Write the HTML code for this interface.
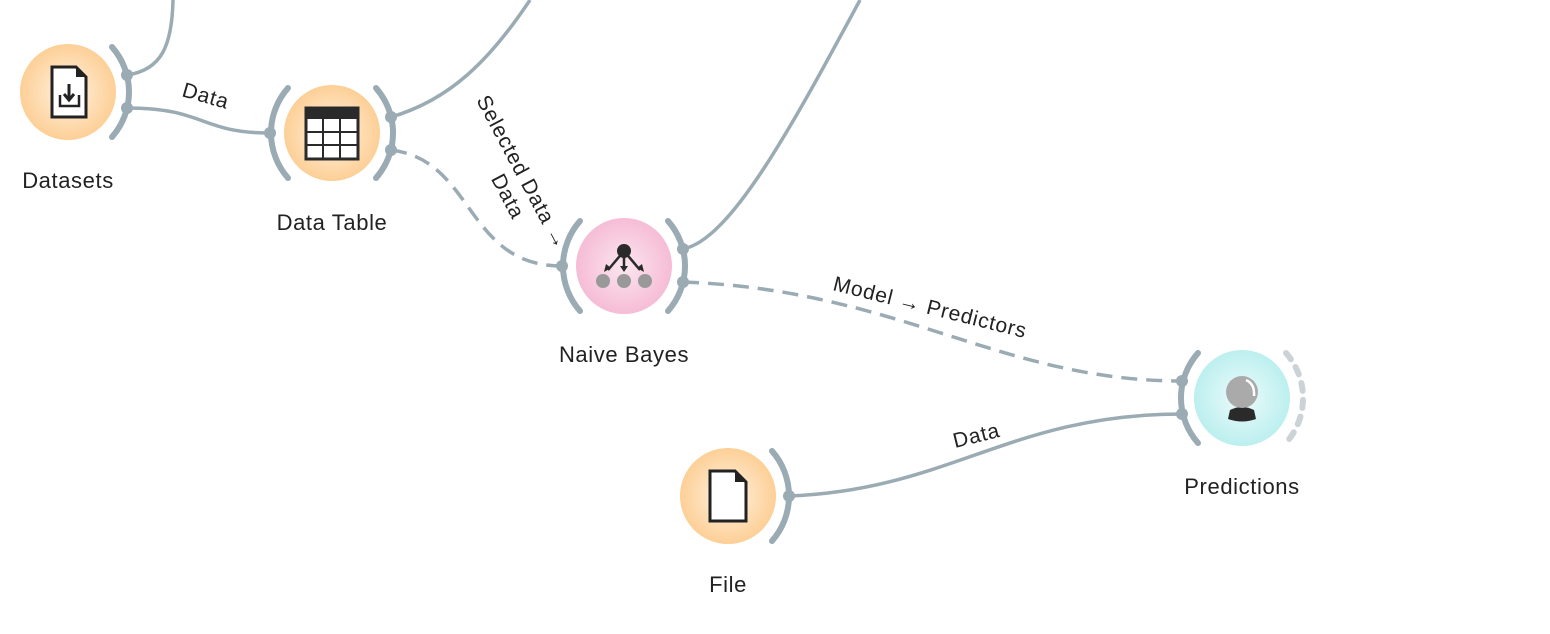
<!DOCTYPE html>
<html><head><meta charset="utf-8"><style>
html,body{margin:0;padding:0;background:#fff;}
svg{display:block;}
text{font-family:"Liberation Sans",sans-serif;fill:#222;}
.nl{font-size:22px;letter-spacing:0.6px;}
.el{font-size:21px;letter-spacing:0.8px;}
</style></head><body>
<svg width="1550" height="634" viewBox="0 0 1550 634" xmlns="http://www.w3.org/2000/svg">
<defs>
<radialGradient id="og" cx="50%" cy="50%" r="50%"><stop offset="0" stop-color="#fff3e3"/><stop offset="1" stop-color="#fdcf96"/></radialGradient>
<radialGradient id="pg" cx="50%" cy="50%" r="50%"><stop offset="0" stop-color="#fbe6ef"/><stop offset="1" stop-color="#f6bcd6"/></radialGradient>
<radialGradient id="cg" cx="50%" cy="50%" r="50%"><stop offset="0" stop-color="#eefbfb"/><stop offset="1" stop-color="#bcefef"/></radialGradient>
<g id="ra"><path d="M44,-45 A68,68 0 0 1 44,45" fill="none" stroke="#9aabb4" stroke-width="6" stroke-linecap="round"/></g>
<g id="la"><path d="M-44,-45 A68,68 0 0 0 -44,45" fill="none" stroke="#9aabb4" stroke-width="6" stroke-linecap="round"/></g>
</defs>
<g fill="none" stroke="#9aabb4" stroke-width="3.5">
<path d="M127,75 C162,70 172,45 173,0"/>
<path d="M127,108 C205,108 200,133 270,133"/>
<path d="M391,117 C450,100 490,60 530,0"/>
<path d="M391,150 C475,160 465,266 562,266" stroke-dasharray="16,9"/>
<path d="M683,249 C730,240 790,130 860,0"/>
<path d="M683,282 C900,290 1000,381 1182,381" stroke-dasharray="16,9"/>
<path d="M789,496 C950,490 1010,414 1182,414"/>
</g>
<!-- Datasets -->
<circle cx="68" cy="92" r="48" fill="url(#og)"/>
<use href="#ra" x="68" y="92"/>
<path d="M52,67 H76 L86,77 V117 H52 Z" fill="#fff" stroke="#222" stroke-width="3"/>
<path d="M76,67 L86,77 H76 Z" fill="#222"/>
<path d="M60,95 V106 H79 V95" fill="none" stroke="#222" stroke-width="2.5"/>
<path d="M69,84 V98 M64,94 L69,100 L74,94" fill="none" stroke="#222" stroke-width="3"/>
<text class="nl" x="68" y="188" text-anchor="middle">Datasets</text>
<!-- Data Table -->
<circle cx="332" cy="133" r="48" fill="url(#og)"/>
<use href="#ra" x="332" y="133"/><use href="#la" x="332" y="133"/>
<rect x="306" y="108" width="52" height="51" fill="#fff" stroke="#2a2a2a" stroke-width="3"/>
<rect x="306" y="108" width="52" height="11" fill="#2a2a2a"/>
<path d="M323,119 V159 M340,119 V159 M306,132 H358 M306,145 H358" stroke="#2a2a2a" stroke-width="2"/>
<text class="nl" x="332" y="230" text-anchor="middle">Data Table</text>
<!-- Naive Bayes -->
<circle cx="624" cy="266" r="48" fill="url(#pg)"/>
<use href="#ra" x="624" y="266"/><use href="#la" x="624" y="266"/>
<circle cx="624" cy="251" r="7" fill="#2a2a2a"/>
<path d="M624,251 L608,270 M624,251 V270 M624,251 L640,270" stroke="#2a2a2a" stroke-width="2.5"/>
<path d="M604,272 l2,-8 l5,4z M620,266 h8 l-4,6z M644,272 l-2,-8 l-5,4z" fill="#2a2a2a"/>
<circle cx="603" cy="281" r="7" fill="#999"/><circle cx="624" cy="281" r="7" fill="#999"/><circle cx="645" cy="281" r="7" fill="#999"/>
<text class="nl" x="624" y="362" text-anchor="middle">Naive Bayes</text>
<!-- Predictions -->
<circle cx="1242" cy="398" r="48" fill="url(#cg)"/>
<use href="#la" x="1242" y="398"/>
<path d="M1286,353 A68,68 0 0 1 1286,443" fill="none" stroke="#ccd3d7" stroke-width="6" stroke-linecap="round" stroke-dasharray="8,9"/>
<path d="M1230,410 Q1242,404 1254,410 L1256,419 Q1242,424 1228,419 Z" fill="#2a2a2a"/>
<circle cx="1242" cy="392" r="16" fill="#aaa"/>
<path d="M1246,380 Q1255,384 1254,396" fill="none" stroke="#fff" stroke-width="2.5"/>
<text class="nl" x="1242" y="494" text-anchor="middle">Predictions</text>
<!-- File -->
<circle cx="728" cy="496" r="48" fill="url(#og)"/>
<use href="#ra" x="728" y="496"/>
<path d="M710,471 H735 L746,482 V521 H710 Z" fill="#fff" stroke="#222" stroke-width="3"/>
<path d="M735,471 L746,482 H735 Z" fill="#222"/>
<text class="nl" x="728" y="592" text-anchor="middle">File</text>
<!-- ports -->
<g fill="#9aabb4">
<circle cx="127" cy="75" r="6"/><circle cx="127" cy="108" r="6"/>
<circle cx="270" cy="133" r="6"/><circle cx="391" cy="117" r="6"/><circle cx="391" cy="150" r="6"/>
<circle cx="562" cy="266" r="6"/><circle cx="683" cy="249" r="6"/><circle cx="683" cy="282" r="6"/>
<circle cx="1182" cy="381" r="6"/><circle cx="1182" cy="414" r="6"/>
<circle cx="789" cy="496" r="6"/>
</g>
<!-- labels -->
<text class="el" transform="translate(181,96) rotate(16)">Data</text>
<g transform="translate(476,100) rotate(62)"><text class="el" x="0" y="0">Selected Data →</text><text class="el" x="100" y="24" text-anchor="middle">Data</text></g>
<text class="el" transform="translate(832,290) rotate(14)">Model → Predictors</text>
<text class="el" transform="translate(955,448) rotate(-14)">Data</text>
</svg>
</body></html>
